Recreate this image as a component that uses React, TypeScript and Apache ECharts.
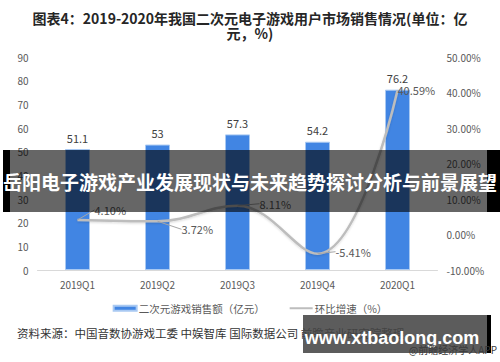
import React, { useEffect, useRef } from "react";
import * as echarts from "echarts";

const categories = ["2019Q1", "2019Q2", "2019Q3", "2019Q4", "2020Q1"];
const salesValues = [51.1, 53, 57.3, 54.2, 76.2];
const growthValues = [4.1, 3.72, 8.11, -5.41, 40.59];
const leftTicks = { min: 0, max: 90, interval: 10 };
const rightTicks = { min: -10, max: 50, interval: 10 };
const labelShift = [
  [12, -10],
  [19, 8],
  [17, -2],
  [13, -2],
  [-5, 0],
];

const titleText = "图表4：2019-2020年我国二次元电子游戏用户市场销售情况(单位：亿\n元，%)";
const sourceText = "资料来源：中国音数协游戏工委 中娱智库 国际数据公司 前瞻产业研究院整理";
const creditText = "@前瞻经济学人APP";
const bannerText = "岳阳电子游戏产业发展现状与未来趋势探讨分析与前景展望";
const siteText = "www.xtbaolong.com";

const FONT = '"Noto Sans CJK SC", "Noto Sans", sans-serif';

export default function App() {
  const ref = useRef<HTMLDivElement>(null);
  useEffect(() => {
    if (!ref.current) return;
    const chart = echarts.init(ref.current, null, { renderer: "svg" });
    chart.setOption({
      animation: false,
      backgroundColor: "#ffffff",
      textStyle: { fontFamily: FONT },
      grid: { left: 37.5, right: 62.5, top: 57, bottom: 92 },
      legend: {
        top: 298,
        left: "center",
        itemWidth: 23,
        itemHeight: 5,
        itemGap: 24,
        textStyle: { fontSize: 10.5, color: "#595959", fontFamily: FONT, padding: [0, 0, 0, -3] },
        data: [
          { name: "二次元游戏销售额（亿元）", icon: "rect" },
          { name: "环比增速（%）", itemStyle: { opacity: 0 } },
        ],
      },
      xAxis: {
        type: "category",
        data: categories,
        axisLine: { lineStyle: { color: "#d9d9d9", width: 1 } },
        axisTick: { show: false },
        axisLabel: { color: "#595959", fontSize: 10, margin: 9 },
      },
      yAxis: [
        {
          type: "value",
          min: leftTicks.min,
          max: leftTicks.max,
          interval: leftTicks.interval,
          splitLine: { show: false },
          axisLine: { show: false },
          axisTick: { show: false },
          axisLabel: { color: "#595959", fontSize: 10, margin: 9 },
        },
        {
          type: "value",
          min: rightTicks.min,
          max: rightTicks.max,
          interval: rightTicks.interval,
          splitLine: { show: false },
          axisLine: { show: false },
          axisTick: { show: false },
          axisLabel: {
            color: "#595959",
            fontSize: 10,
            margin: 9,
            formatter: (v: number) => v.toFixed(2) + "%",
          },
        },
      ],
      series: [
        {
          name: "二次元游戏销售额（亿元）",
          type: "bar",
          data: salesValues,
          barWidth: 25,
          itemStyle: { color: "#4185e3", borderColor: "#a9c9f2", borderWidth: 1 },
          label: {
            show: true,
            position: "top",
            distance: 6,
            color: "#404040",
            fontSize: 11,
          },
        },
        {
          name: "环比增速（%）",
          type: "line",
          yAxisIndex: 1,
          data: growthValues,
          smooth: 0.4,
          symbol: "circle",
          symbolSize: 0.01,
          showSymbol: true,
          lineStyle: {
            color: "#bdbdbd",
            width: 2.5,
            shadowColor: "rgba(0,0,0,0.15)",
            shadowBlur: 2,
            shadowOffsetY: 1,
          },
          itemStyle: { color: "#bdbdbd" },
          label: {
            show: true,
            position: "right",
            distance: 5,
            color: "#595959",
            fontSize: 11,
            formatter: (p: any) => Number(p.value).toFixed(2) + "%",
          },
          labelLine: { show: true, lineStyle: { color: "#a6a6a6", width: 1 } },
          labelLayout: (p: any) => ({
            dx: labelShift[p.dataIndex][0],
            dy: labelShift[p.dataIndex][1],
          }),
          z: 3,
        },
      ],
      graphic: [
        {
          type: "text",
          x: 250,
          y: 10,
          style: {
            text: titleText,
            fill: "#262626",
            align: "center",
            verticalAlign: "top",
            lineHeight: 15,
            font: `bold 14px ${FONT}`,
          },
        },
        {
          type: "text",
          x: 17,
          y: 333,
          style: {
            text: sourceText,
            fill: "#333333",
            verticalAlign: "middle",
            font: `11.5px ${FONT}`,
          },
        },
        {
          type: "rect",
          shape: { x: 303, y: 315, width: 184, height: 38 },
          style: { fill: "rgba(70,70,70,0.88)" },
          z: 100,
        },
        {
          type: "rect",
          shape: { x: 487, y: 315, width: 4, height: 38 },
          style: { fill: "#000000" },
          z: 100,
        },
        {
          type: "text",
          x: 392,
          y: 338,
          style: {
            text: siteText,
            fill: "#ffffff",
            align: "center",
            verticalAlign: "middle",
            font: 'bold 18px "Liberation Sans", Arial, sans-serif',
          },
          z: 101,
        },
        {
          type: "text",
          x: 497,
          y: 349,
          style: {
            text: creditText,
            fill: "#3a3a3a",
            align: "right",
            verticalAlign: "middle",
            font: `10px ${FONT}`,
          },
          z: 101,
        },
        {
          type: "rect",
          shape: { x: 10, y: 150, width: 477, height: 62 },
          style: { fill: "rgba(0,0,0,0.6)" },
          z: 100,
        },
        {
          type: "rect",
          shape: { x: 3, y: 150, width: 7, height: 62 },
          style: { fill: "#000000" },
          z: 100,
        },
        {
          type: "rect",
          shape: { x: 487, y: 150, width: 13, height: 62 },
          style: { fill: "#000000" },
          z: 100,
        },
        {
          type: "text",
          x: 250,
          y: 181,
          style: {
            text: bannerText,
            fill: "#ffffff",
            align: "center",
            verticalAlign: "middle",
            font: `bold 19px ${FONT}`,
          },
          z: 101,
        },
      ],
    });
    return () => chart.dispose();
  }, []);
  return (
    <div
      ref={ref}
      style={{ position: "fixed", left: 0, top: 0, width: 500, height: 362 }}
    />
  );
}
